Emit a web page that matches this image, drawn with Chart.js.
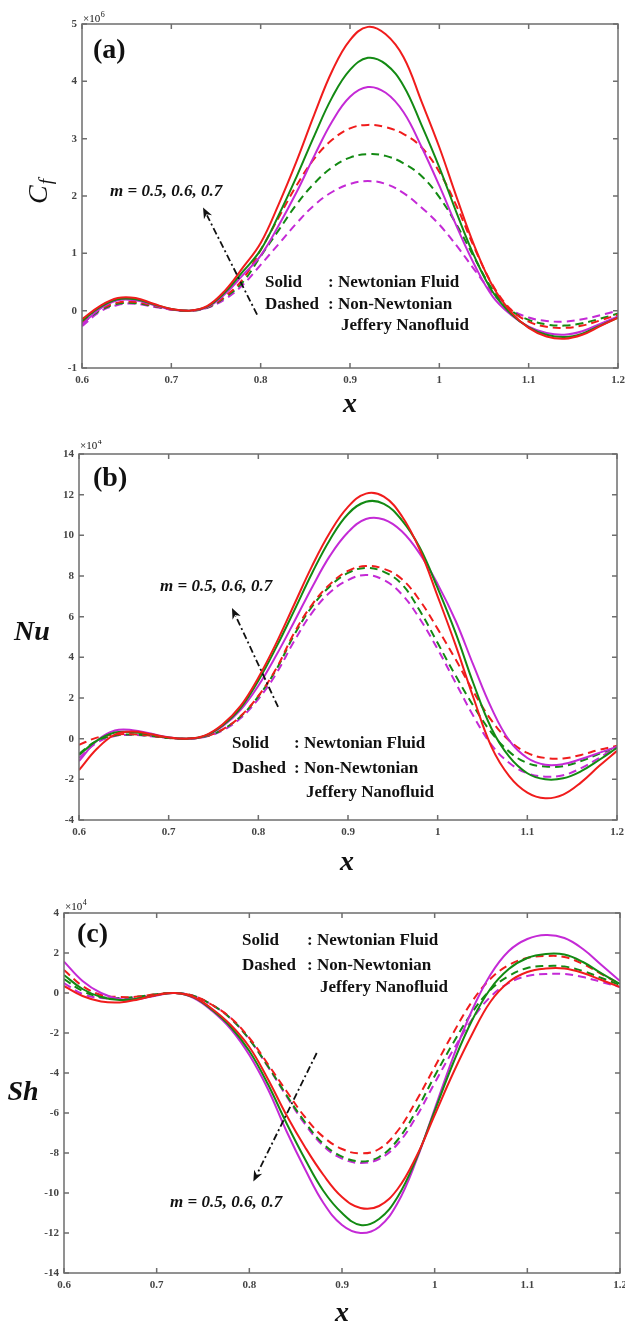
<!DOCTYPE html>
<html>
<head>
<meta charset="utf-8">
<script src="https://cdn.jsdelivr.net/npm/chart.js@4.4.1/dist/chart.umd.min.js"></script>
<style>
  html, body { margin: 0; padding: 0; background: #fff; }
  #wrap { position: relative; width: 625px; height: 1324px; overflow: hidden; }
  canvas { position: absolute; left: 0; }
</style>
</head>
<body>
<div id="wrap">
  <canvas id="chartA" width="625" height="440" style="top:0px"></canvas>
  <canvas id="chartB" width="625" height="440" style="top:440px"></canvas>
  <canvas id="chartC" width="625" height="444" style="top:880px"></canvas>
</div>
<script>
/* ================= DATA ================= */

const xValues = [0.60, 0.62, 0.64, 0.66, 0.68, 0.70, 0.72, 0.74, 0.76, 0.78, 0.80,
                 0.82, 0.84, 0.86, 0.88, 0.90, 0.92, 0.94, 0.96, 0.98, 1.00,
                 1.02, 1.04, 1.06, 1.08, 1.10, 1.12, 1.14, 1.16, 1.18, 1.20];

// (a) skin friction, x10^6
const cfSolidRed     = [-0.15, 0.08, 0.22, 0.22, 0.12, 0.03, 0.00, 0.08, 0.35, 0.75, 1.18, 1.85, 2.60, 3.42, 4.18, 4.72, 4.95, 4.82, 4.42, 3.65, 2.85, 1.95, 1.10, 0.42, -0.02, -0.30, -0.45, -0.49, -0.42, -0.27, -0.12];
const cfSolidGreen   = [-0.18, 0.06, 0.20, 0.20, 0.11, 0.03, 0.00, 0.07, 0.32, 0.68, 1.06, 1.66, 2.33, 3.05, 3.72, 4.20, 4.41, 4.30, 3.92, 3.24, 2.50, 1.68, 0.92, 0.32, -0.05, -0.29, -0.42, -0.46, -0.40, -0.26, -0.12];
const cfSolidMagenta = [-0.24, 0.03, 0.18, 0.18, 0.10, 0.02, 0.00, 0.06, 0.29, 0.62, 0.96, 1.48, 2.06, 2.70, 3.30, 3.73, 3.90, 3.80, 3.46, 2.86, 2.18, 1.45, 0.78, 0.24, -0.07, -0.28, -0.39, -0.42, -0.36, -0.23, -0.10];
const cfDashRed      = [-0.20, 0.02, 0.14, 0.15, 0.09, 0.02, 0.00, 0.06, 0.25, 0.55, 1.06, 1.62, 2.18, 2.65, 2.98, 3.18, 3.24, 3.20, 3.08, 2.85, 2.42, 1.80, 1.07, 0.44, 0.02, -0.19, -0.28, -0.30, -0.26, -0.17, -0.07];
const cfDashGreen    = [-0.22, 0.00, 0.12, 0.13, 0.08, 0.02, 0.00, 0.05, 0.23, 0.50, 0.95, 1.40, 1.85, 2.22, 2.50, 2.67, 2.73, 2.70, 2.57, 2.35, 1.98, 1.48, 0.90, 0.36, 0.01, -0.16, -0.24, -0.26, -0.22, -0.14, -0.05];
const cfDashMagenta  = [-0.27, -0.02, 0.10, 0.12, 0.07, 0.02, 0.00, 0.05, 0.20, 0.45, 0.80, 1.16, 1.52, 1.84, 2.07, 2.21, 2.26, 2.21, 2.05, 1.80, 1.50, 1.12, 0.70, 0.30, 0.02, -0.12, -0.18, -0.19, -0.15, -0.08, 0.00];

// (b) Nusselt number, x10^4
const nuSolidRed     = [-1.55, -0.50, 0.20, 0.35, 0.22, 0.06, 0.00, 0.15, 0.70, 1.60, 3.00, 4.70, 6.60, 8.50, 10.15, 11.40, 12.05, 11.90, 10.95, 9.30, 7.00, 4.60, 2.00, -0.40, -1.85, -2.65, -2.93, -2.75, -2.15, -1.35, -0.60];
const nuSolidGreen   = [-0.80, -0.10, 0.30, 0.32, 0.20, 0.05, 0.00, 0.13, 0.65, 1.50, 2.85, 4.50, 6.30, 8.15, 9.80, 11.05, 11.65, 11.55, 10.75, 9.40, 7.40, 5.20, 2.70, 0.50, -0.90, -1.70, -2.00, -1.95, -1.60, -1.05, -0.45];
const nuSolidMagenta = [-1.10, -0.10, 0.40, 0.42, 0.25, 0.07, 0.00, 0.12, 0.60, 1.40, 2.60, 4.10, 5.75, 7.45, 9.00, 10.15, 10.80, 10.78, 10.20, 9.10, 7.60, 5.80, 3.60, 1.50, -0.10, -0.95, -1.28, -1.25, -1.00, -0.70, -0.40];
const nuDashRed      = [-0.30, 0.05, 0.20, 0.22, 0.15, 0.04, 0.00, 0.10, 0.45, 1.10, 2.10, 3.45, 5.20, 6.60, 7.60, 8.25, 8.49, 8.35, 7.85, 6.80, 5.40, 3.90, 2.30, 0.90, -0.10, -0.70, -0.95, -0.97, -0.80, -0.55, -0.35];
const nuDashGreen    = [-0.75, -0.10, 0.15, 0.20, 0.13, 0.03, 0.00, 0.10, 0.45, 1.08, 2.08, 3.40, 5.10, 6.50, 7.50, 8.15, 8.40, 8.20, 7.60, 6.30, 4.70, 3.10, 1.60, 0.30, -0.65, -1.20, -1.37, -1.35, -1.10, -0.75, -0.40];
const nuDashMagenta  = [-0.95, -0.20, 0.13, 0.18, 0.12, 0.03, 0.00, 0.08, 0.40, 1.00, 1.95, 3.20, 4.80, 6.20, 7.20, 7.80, 8.05, 7.80, 7.10, 5.90, 4.40, 2.75, 1.10, -0.30, -1.20, -1.70, -1.87, -1.80, -1.45, -0.95, -0.40];

// (c) Sherwood number, x10^4
const shSolidRed     = [0.35, -0.15, -0.42, -0.47, -0.32, -0.10, 0.00, -0.20, -0.80, -1.60, -2.70, -4.30, -6.10, -7.70, -9.10, -10.20, -10.75, -10.65, -9.80, -8.20, -6.10, -4.00, -2.10, -0.45, 0.55, 1.05, 1.22, 1.22, 1.00, 0.65, 0.30];
const shSolidGreen   = [0.90, 0.20, -0.20, -0.35, -0.28, -0.10, 0.00, -0.22, -0.85, -1.70, -2.90, -4.55, -6.50, -8.30, -9.90, -11.00, -11.60, -11.30, -10.20, -8.30, -5.90, -3.50, -1.40, 0.20, 1.20, 1.75, 1.95, 1.92, 1.55, 0.98, 0.45];
const shSolidMagenta = [1.57, 0.60, 0.00, -0.30, -0.30, -0.12, 0.00, -0.25, -0.90, -1.80, -3.10, -4.80, -6.90, -8.80, -10.50, -11.60, -12.00, -11.70, -10.50, -8.40, -5.80, -3.20, -0.90, 0.90, 2.10, 2.70, 2.90, 2.75, 2.20, 1.40, 0.60];
const shDashRed      = [1.15, 0.35, -0.10, -0.20, -0.18, -0.06, 0.00, -0.15, -0.60, -1.25, -2.25, -3.55, -4.90, -6.20, -7.20, -7.80, -8.02, -7.80, -6.90, -5.40, -3.70, -2.00, -0.45, 0.70, 1.40, 1.75, 1.85, 1.80, 1.45, 0.95, 0.45];
const shDashGreen    = [0.70, 0.10, -0.20, -0.25, -0.18, -0.06, 0.00, -0.15, -0.60, -1.28, -2.32, -3.65, -5.10, -6.45, -7.55, -8.18, -8.42, -8.20, -7.35, -5.90, -4.15, -2.50, -1.00, 0.15, 0.85, 1.25, 1.35, 1.32, 1.10, 0.75, 0.40];
const shDashMagenta  = [0.50, -0.05, -0.25, -0.28, -0.20, -0.07, 0.00, -0.15, -0.60, -1.28, -2.32, -3.68, -5.15, -6.55, -7.65, -8.28, -8.50, -8.30, -7.55, -6.20, -4.50, -2.85, -1.35, -0.20, 0.50, 0.85, 0.95, 0.95, 0.80, 0.55, 0.30];

const legendLines = ['Solid', ': Newtonian Fluid', 'Dashed', ': Non-Newtonian', 'Jeffery Nanofluid'];
const mLabel = 'm = 0.5, 0.6, 0.7';

/* ================= STYLE ================= */

const RED = '#f01c1c';
const GREEN = '#138a13';
const MAGENTA = '#c42ad6';
const SERIF = '"Liberation Serif", "Times New Roman", serif';

/* ================= HELPERS ================= */

function line(values, color, dashed) {
  return {
    data: xValues.map((x, i) => ({ x, y: values[i] })),
    borderColor: color,
    borderWidth: 2,
    borderDash: dashed ? [8, 5] : [],
    pointRadius: 0,
    tension: 0.4,
    fill: false
  };
}

function label(ctx, str, x, y, font, align) {
  ctx.font = font;
  ctx.textAlign = align || 'left';
  ctx.textBaseline = 'middle';
  ctx.fillStyle = '#111';
  ctx.fillText(str, x, y);
}

function panelNotes(n) {
  return {
    id: 'panelNotes',
    afterDraw(chart) {
      const { ctx, chartArea: a, scales: { x, y } } = chart;
      ctx.save();

      // box with inward ticks
      ctx.strokeStyle = '#6e6e6e';
      ctx.lineWidth = 1.5;
      ctx.setLineDash([]);
      ctx.strokeRect(a.left, a.top, a.right - a.left, a.bottom - a.top);
      ctx.beginPath();
      x.ticks.forEach(t => {
        const px = x.getPixelForValue(t.value);
        ctx.moveTo(px, a.bottom); ctx.lineTo(px, a.bottom - 5);
        ctx.moveTo(px, a.top); ctx.lineTo(px, a.top + 5);
      });
      y.ticks.forEach(t => {
        const py = y.getPixelForValue(t.value);
        ctx.moveTo(a.left, py); ctx.lineTo(a.left + 5, py);
        ctx.moveTo(a.right, py); ctx.lineTo(a.right - 5, py);
      });
      ctx.stroke();

      // exponent
      label(ctx, '\u00d710', n.exp[0], n.exp[1], `11px ${SERIF}`);
      const w = ctx.measureText('\u00d710').width;
      label(ctx, n.exp[2], n.exp[0] + w + 0.5, n.exp[1] - 4, `8px ${SERIF}`);

      // panel letter
      label(ctx, n.letter[0], n.letter[1], n.letter[2], `bold 28px ${SERIF}`);

      // axis titles
      if (n.yTitleRotated) {
        ctx.save();
        ctx.translate(n.yTitle[1], n.yTitle[2]);
        ctx.rotate(-Math.PI / 2);
        label(ctx, 'C', -12, 0, `italic 28px ${SERIF}`);
        const cw = ctx.measureText('C').width;
        label(ctx, 'f', -12 + cw + 1, 7, `italic 19px ${SERIF}`);
        ctx.restore();
      } else {
        label(ctx, n.yTitle[0], n.yTitle[1], n.yTitle[2], `bold italic 28px ${SERIF}`, 'center');
      }
      label(ctx, 'x', n.xTitle[0], n.xTitle[1], `bold italic 28px ${SERIF}`, 'center');

      // m label
      label(ctx, mLabel, n.m[0], n.m[1], `bold italic 17px ${SERIF}`);

      // legend text
      const lg = n.legend;
      const f = `bold 17px ${SERIF}`;
      label(ctx, legendLines[0], lg.x, lg.rows[0], f);
      label(ctx, legendLines[1], lg.colon, lg.rows[0], f);
      label(ctx, legendLines[2], lg.x, lg.rows[1], f);
      label(ctx, legendLines[3], lg.colon, lg.rows[1], f);
      label(ctx, legendLines[4], lg.jeffery, lg.rows[2], f);

      // dash-dot arrow (data coordinates)
      const x0 = x.getPixelForValue(n.arrow[0][0]);
      const y0 = y.getPixelForValue(n.arrow[0][1]);
      const x1 = x.getPixelForValue(n.arrow[1][0]);
      const y1 = y.getPixelForValue(n.arrow[1][1]);
      const ang = Math.atan2(y1 - y0, x1 - x0);
      const hl = 11;
      ctx.strokeStyle = '#111';
      ctx.fillStyle = '#111';
      ctx.lineWidth = 1.8;
      ctx.setLineDash([7, 3, 2, 3]);
      ctx.beginPath();
      ctx.moveTo(x0, y0);
      ctx.lineTo(x1 - Math.cos(ang) * hl * 0.8, y1 - Math.sin(ang) * hl * 0.8);
      ctx.stroke();
      ctx.setLineDash([]);
      ctx.beginPath();
      ctx.moveTo(x1, y1);
      ctx.lineTo(x1 - hl * Math.cos(ang) + 4.5 * Math.sin(ang), y1 - hl * Math.sin(ang) - 4.5 * Math.cos(ang));
      ctx.lineTo(x1 - hl * 0.7 * Math.cos(ang), y1 - hl * 0.7 * Math.sin(ang));
      ctx.lineTo(x1 - hl * Math.cos(ang) - 4.5 * Math.sin(ang), y1 - hl * Math.sin(ang) + 4.5 * Math.cos(ang));
      ctx.closePath();
      ctx.fill();

      ctx.restore();
    }
  };
}

function buildChart(id, cfg) {
  const tickFont = { family: SERIF, size: 11, weight: 'bold' };
  return new Chart(document.getElementById(id), {
    type: 'line',
    data: {
      datasets: [
        line(cfg.series[0], RED, false),
        line(cfg.series[1], GREEN, false),
        line(cfg.series[2], MAGENTA, false),
        line(cfg.series[3], RED, true),
        line(cfg.series[4], GREEN, true),
        line(cfg.series[5], MAGENTA, true)
      ]
    },
    options: {
      responsive: false,
      animation: false,
      layout: { padding: cfg.padding },
      plugins: { legend: { display: false }, tooltip: { enabled: false } },
      scales: {
        x: {
          type: 'linear',
          min: 0.6,
          max: 1.2,
          grid: { display: false, drawTicks: false },
          border: { display: false },
          ticks: {
            stepSize: 0.1,
            padding: 6,
            autoSkip: false,
            maxRotation: 0,
            color: '#444',
            font: tickFont,
            callback: v => String(Number(v.toFixed(2)))
          },
          afterFit(scale) {
            scale.height = 30;
            scale.paddingLeft = 0;
            scale.paddingRight = 0;
          }
        },
        y: {
          min: cfg.yMin,
          max: cfg.yMax,
          grid: { display: false, drawTicks: false },
          border: { display: false },
          ticks: {
            stepSize: cfg.yStep,
            padding: 5,
            color: '#444',
            font: tickFont,
            callback: v => String(v)
          },
          afterFit(scale) {
            scale.width = cfg.yWidth;
          }
        }
      }
    },
    plugins: [panelNotes(cfg.notes)]
  });
}

/* ================= PANELS ================= */

buildChart('chartA', {
  series: [cfSolidRed, cfSolidGreen, cfSolidMagenta, cfDashRed, cfDashGreen, cfDashMagenta],
  yMin: -1, yMax: 5, yStep: 1, yWidth: 82,
  padding: { top: 24, right: 7, bottom: 42, left: 0 },
  notes: {
    exp: [83, 19, '6'],
    letter: ['(a)', 93, 51],
    yTitleRotated: true,
    yTitle: ['Cf', 40, 192],
    xTitle: [350, 405],
    m: [110, 192],
    legend: { x: 265, colon: 328, jeffery: 341, rows: [283, 305, 326] },
    arrow: [[0.796, -0.07], [0.7355, 1.8]]
  }
});

buildChart('chartB', {
  series: [nuSolidRed, nuSolidGreen, nuSolidMagenta, nuDashRed, nuDashGreen, nuDashMagenta],
  yMin: -4, yMax: 14, yStep: 2, yWidth: 79,
  padding: { top: 14, right: 8, bottom: 30, left: 0 },
  notes: {
    exp: [80, 6, '4'],
    letter: ['(b)', 93, 39],
    yTitle: ['Nu', 32, 193],
    xTitle: [347, 423],
    m: [160, 147],
    legend: { x: 232, colon: 294, jeffery: 306, rows: [304, 329, 353] },
    arrow: [[0.822, 1.56], [0.7706, 6.43]]
  }
});

buildChart('chartC', {
  series: [shSolidRed, shSolidGreen, shSolidMagenta, shDashRed, shDashGreen, shDashMagenta],
  yMin: -14, yMax: 4, yStep: 2, yWidth: 64,
  padding: { top: 33, right: 5, bottom: 21, left: 0 },
  notes: {
    exp: [65, 27, '4'],
    letter: ['(c)', 77, 55],
    yTitle: ['Sh', 23, 213],
    xTitle: [342, 434],
    m: [170, 323],
    legend: { x: 242, colon: 307, jeffery: 320, rows: [61, 86, 108] },
    arrow: [[0.8727, -3.0], [0.8043, -9.43]]
  }
});
</script>
</body>
</html>
